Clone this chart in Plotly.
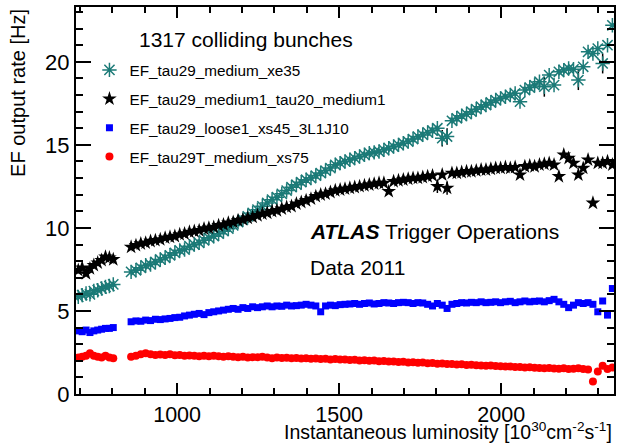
import plotly.graph_objects as go

lumi = [695, 707, 719, 731, 743, 755, 767, 779, 791, 803,
        858, 873, 888, 903, 918, 933, 948, 963, 978, 993,
        1008, 1023, 1038, 1053, 1068, 1083, 1098, 1113, 1128, 1143,
        1158, 1173, 1188, 1203, 1218, 1233, 1248, 1263, 1278, 1293,
        1308, 1323, 1338, 1353, 1368, 1383, 1398, 1413, 1428, 1443,
        1458, 1473, 1488, 1503, 1518, 1533, 1548, 1563, 1578, 1593,
        1608, 1623, 1638, 1653, 1668, 1683, 1698, 1713, 1728, 1743,
        1758, 1773, 1788, 1803, 1818, 1833, 1848, 1863, 1878, 1893,
        1908, 1923, 1938, 1953, 1968, 1983, 1998, 2013, 2028, 2043,
        2058, 2073, 2088, 2103, 2118, 2133, 2148, 2163, 2178, 2193,
        2208, 2223, 2238, 2253, 2268, 2283, 2298, 2313, 2328, 2343]

xe35 = [5.85, 5.95, 6.05, 6.0, 6.2, 6.25, 6.35, 6.45, 6.5, 6.6,
        7.35, 7.45, 7.6, 7.75, 7.8, 7.95, 8.1, 8.2, 8.35, 8.5,
        8.65, 8.7, 8.9, 9.0, 9.1, 9.25, 9.4, 9.5, 9.65, 9.8,
        9.95, 10.15, 10.35, 10.5, 10.7, 10.9, 11.1, 11.3, 11.5, 11.7,
        11.85, 12.05, 12.25, 12.45, 12.6, 12.75, 12.9, 13.0, 13.15, 13.3,
        13.45, 13.6, 13.8, 13.9, 14.0, 14.1, 14.2, 14.3, 14.4, 14.5,
        14.55, 14.6, 14.7, 14.8, 14.9, 15.0, 15.1, 15.2, 15.35, 15.5,
        15.6, 15.75, 15.85, 16.0, 15.4, 15.5, 16.45, 16.6, 16.75, 16.85,
        17.0, 17.15, 17.3, 17.4, 17.55, 17.7, 17.8, 17.9, 18.0, 18.1,
        17.6, 18.3, 18.45, 18.6, 18.8, 18.5, 19.2, 18.6, 19.4, 19.5,
        19.6, 19.55, 18.9, 19.7, 20.6, 20.5, 20.8, 19.9, 21.0, 22.2]

ditau = [7.45, 7.6, 7.25, 7.55, 7.75, 7.9, 8.05, 8.25, 8.2, 8.1,
         8.85, 8.95, 9.05, 9.1, 9.2, 9.25, 9.3, 9.4, 9.45, 9.5,
         9.6, 9.65, 9.75, 9.8, 9.85, 9.95, 10.0, 10.05, 10.15, 10.2,
         10.3, 10.35, 10.45, 10.5, 10.6, 10.65, 10.75, 10.85, 10.9, 11.0,
         11.05, 11.15, 11.25, 11.3, 11.45, 11.55, 11.65, 11.75, 11.9, 12.0,
         12.05, 12.15, 12.25, 12.3, 12.35, 12.4, 12.45, 12.5, 12.55, 12.6,
         12.65, 12.7, 12.7, 12.2, 12.8, 12.85, 12.9, 12.95, 13.0, 13.0,
         13.05, 13.1, 13.15, 12.5, 13.2, 12.4, 13.3, 13.3, 13.35, 13.4,
         13.4, 13.45, 13.5, 13.5, 13.55, 13.6, 13.6, 13.65, 13.6, 13.65,
         13.2, 13.7, 13.75, 13.7, 13.8, 13.85, 13.9, 13.8, 13.1, 14.4,
         14.2, 13.9, 13.2, 13.6, 14.1, 11.5, 13.9, 13.9, 14.0, 13.8]

xs45 = [3.8, 3.75, 3.85, 3.7, 3.8, 3.85, 3.9, 3.95, 3.95, 4.0,
        4.35, 4.4, 4.38, 4.45, 4.42, 4.5, 4.48, 4.52, 4.55, 4.6,
        4.62, 4.7, 4.75, 4.8, 4.85, 4.78, 4.9, 4.95, 5.0, 5.05,
        5.1, 5.15, 5.1, 5.2, 5.15, 5.25, 5.2, 5.25, 5.3, 5.25,
        5.3, 5.28, 5.35, 5.3, 5.32, 5.35, 5.4, 5.35, 5.3, 4.95,
        5.3, 5.35, 5.32, 5.38, 5.4, 5.42, 5.45, 5.4, 5.45, 5.48,
        5.42, 5.45, 5.5, 5.48, 5.45, 5.5, 5.52, 5.5, 5.45, 5.5,
        5.48, 5.4, 5.3, 5.45, 5.35, 5.15, 5.4, 5.45, 5.5, 5.48,
        5.52, 5.5, 5.55, 5.5, 5.52, 5.55, 5.5, 5.55, 5.58, 5.5,
        5.55, 5.6, 5.55, 5.58, 5.6, 5.55, 5.62, 5.7, 5.55, 5.4,
        5.2, 5.35, 5.5, 5.45, 5.5, 5.4, 4.95, 5.6, 4.75, 6.35]

xs75 = [2.2, 2.25, 2.3, 2.45, 2.3, 2.25, 2.2, 2.3, 2.2, 2.15,
        2.25, 2.3, 2.4, 2.45, 2.4, 2.35, 2.38, 2.35, 2.4, 2.33,
        2.35, 2.3, 2.32, 2.3, 2.28, 2.3, 2.27, 2.3, 2.28, 2.25,
        2.27, 2.25, 2.22, 2.25, 2.2, 2.22, 2.22, 2.24, 2.2, 2.15,
        2.2, 2.17, 2.19, 2.15, 2.17, 2.13, 2.15, 2.12, 2.14, 2.1,
        2.12, 2.08, 2.1, 2.07, 2.08, 2.04, 2.06, 2.02, 2.03, 2.0,
        2.01, 1.97, 1.99, 1.95, 1.96, 1.92, 1.94, 1.9, 1.91, 1.88,
        1.89, 1.85, 1.86, 1.82, 1.84, 1.8, 1.81, 1.78, 1.79, 1.75,
        1.76, 1.73, 1.72, 1.7, 1.71, 1.68, 1.67, 1.65, 1.66, 1.63,
        1.62, 1.6, 1.61, 1.58, 1.57, 1.55, 1.56, 1.53, 1.52, 1.55,
        1.5, 1.52, 1.55, 1.5, 1.48, 0.75, 1.35, 1.7, 1.5, 1.6]

xe35_err_at = {1818: 0.5, 1833: 0.5, 2133: 0.6, 2238: 0.6, 2313: 0.6}
ditau_err_at = {1803: 0.4, 1833: 0.4}

names = ["EF_tau29_medium_xe35", "EF_tau29_medium1_tau20_medium1",
         "EF_tau29_loose1_xs45_3L1J10", "EF_tau29T_medium_xs75"]

y_ticks = [0, 5, 10, 15, 20]
x_ticks = [1000, 1500, 2000]

FONT = "Liberation Sans, Arial, Helvetica, sans-serif"
TEAL = "#1b7a77"

xe35_err = [xe35_err_at.get(l, 0) for l in lumi]
ditau_err = [ditau_err_at.get(l, 0) for l in lumi]

fig = go.Figure()
fig.add_trace(go.Scatter(
    x=lumi, y=xe35, mode="markers", name=names[0], legendgroup="a",
    marker=dict(symbol="asterisk-open", size=12, color=TEAL,
                line=dict(color=TEAL, width=1.5)),
    error_y=dict(type="data", array=xe35_err, visible=True, color="black",
                 thickness=1.5, width=0)))
fig.add_trace(go.Scatter(
    x=lumi, y=ditau, mode="markers", name=names[1], legendgroup="b",
    marker=dict(symbol="star", size=11, color="black", line=dict(width=0)),
    error_y=dict(type="data", array=ditau_err, visible=True, color="black",
                 thickness=1.5, width=0)))
fig.add_trace(go.Scatter(
    x=lumi, y=xs45, mode="markers", name=names[2], legendgroup="c",
    marker=dict(symbol="square", size=7, color="#0000ff", line=dict(width=0))))
fig.add_trace(go.Scatter(
    x=lumi, y=xs75, mode="markers", name=names[3], legendgroup="d",
    marker=dict(symbol="circle", size=8, color="#ff0000", line=dict(width=0))))

axis_common = dict(
    showgrid=False, zeroline=False, showline=True, linecolor="black",
    linewidth=2, mirror="allticks", ticks="inside", tickcolor="black",
    tickwidth=1.5,
)

fig.update_xaxes(range=[688, 2348], tickvals=x_ticks,
                 ticktext=[str(v) for v in x_ticks], ticklen=11,
                 tickfont=dict(family=FONT, size=21.5, color="black"),
                 minor=dict(dtick=100, tick0=1000, ticks="inside", ticklen=6,
                            tickcolor="black", tickwidth=1.5),
                 **axis_common)
fig.update_yaxes(range=[0, 23.3], tickvals=y_ticks,
                 ticktext=[str(v) for v in y_ticks], ticklen=15,
                 tickfont=dict(family=FONT, size=22, color="black"),
                 minor=dict(dtick=1, tick0=0, ticks="inside", ticklen=7,
                            tickcolor="black", tickwidth=1.5),
                 **axis_common)

fig.update_layout(
    width=618, height=446,
    margin=dict(l=76, r=2, t=7, b=52),
    plot_bgcolor="white", paper_bgcolor="white",
    font=dict(family=FONT, color="black"),
    showlegend=True,
    legend=dict(x=0.025, y=0.88, xanchor="left", yanchor="top",
                bgcolor="rgba(0,0,0,0)", borderwidth=0,
                font=dict(family=FONT, size=15.3, color="black"),
                tracegroupgap=6, traceorder="grouped"),
    annotations=[
        dict(text="1317 colliding bunches", xref="paper", yref="paper",
             x=0.113, y=0.915, xanchor="left", yanchor="middle",
             showarrow=False, font=dict(family=FONT, size=21)),
        dict(text="<b><i>ATLAS</i></b> Trigger Operations", xref="paper",
             yref="paper", x=0.432, y=0.419, xanchor="left", yanchor="middle",
             showarrow=False, font=dict(family=FONT, size=21)),
        dict(text="Data 2011", xref="paper", yref="paper",
             x=0.432, y=0.326, xanchor="left", yanchor="middle",
             showarrow=False, font=dict(family=FONT, size=21)),
        dict(text="Instantaneous luminosity [10<sup>30</sup>cm<sup>-2</sup>s<sup>-1</sup>]",
             xref="paper", yref="paper", x=1.0, y=-0.131, xanchor="right",
             yanchor="bottom", showarrow=False,
             font=dict(family=FONT, size=19.5)),
        dict(text="EF output rate [Hz]", xref="paper", yref="paper",
             x=-0.108, y=1.0, xanchor="center", yanchor="top",
             textangle=-90, showarrow=False,
             font=dict(family=FONT, size=20)),
    ],
)

fig.write_html("out.html")
